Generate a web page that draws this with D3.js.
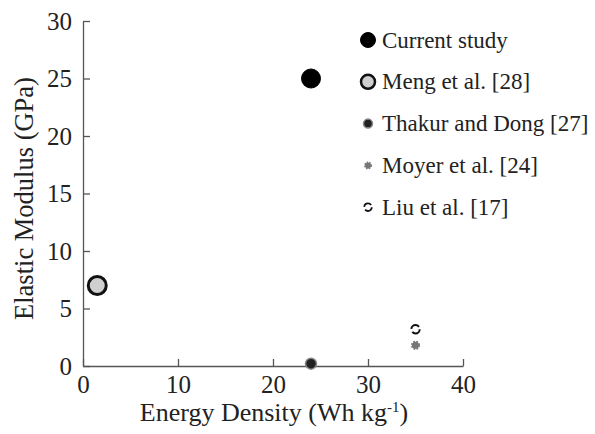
<!DOCTYPE html>
<html>
<head>
<meta charset="utf-8">
<script src="https://cdn.jsdelivr.net/npm/d3@7"></script>
<style>
  body { margin: 0; background: #fff; }
  svg text { font-family: 'Liberation Serif', 'Times New Roman', Times, serif; }
  .domain, .tick line { stroke: #555; stroke-width: 1.3; }
</style>
</head>
<body>
<script>
const studies = ['Current study', 'Meng et al. [28]', 'Thakur and Dong [27]', 'Moyer et al. [24]', 'Liu et al. [17]']
const energy = [24, 1.5, 24, 35, 35]
const modulus = [25, 7, 0.2, 1.8, 3.2]
const xTicks = [0, 10, 20, 30, 40]
const yTicks = [0, 5, 10, 15, 20, 25, 30]

const fam = 'Liberation Serif'

// marker look per study (style only)
const markStyle = [
    { r: 9.5, fill: '#000', stroke: '#000', sw: 1, dash: null },
    { r: 9, fill: '#cfcfcf', stroke: '#111', sw: 3, dash: null },
    { r: 5.5, fill: '#222', stroke: '#888', sw: 1.5, dash: null },
    { r: 3.5, fill: '#777', stroke: '#777', sw: 2.2, dash: '1.6 1.2' },
    { r: 4.2, fill: 'none', stroke: '#111', sw: 2, dash: '10 3.2' }
]
const legendStyle = [
    { r: 7.5, fill: '#000', stroke: '#000', sw: 1, dash: null },
    { r: 7, fill: '#cfcfcf', stroke: '#111', sw: 2.5, dash: null },
    { r: 4.5, fill: '#222', stroke: '#888', sw: 1.5, dash: null },
    { r: 3, fill: '#777', stroke: '#777', sw: 2, dash: '1.4 1.1' },
    { r: 3.8, fill: 'none', stroke: '#111', sw: 1.8, dash: '9 3' }
]

const dms = {
    width: 595,
    height: 434,
    margin: { top: 21, right: 132, bottom: 68, left: 83 }
}
dms.contentWidth = dms.width - dms.margin.left - dms.margin.right
dms.contentHeight = dms.height - dms.margin.top - dms.margin.bottom

const box = d3.select('body').append('svg')
    .attr('width', dms.width)
    .attr('height', dms.height)

const content = box.append('g')
    .attr('transform', `translate(${dms.margin.left},${dms.margin.top})`)

const xScale = d3.scaleLinear().domain([0, 40]).range([0, dms.contentWidth])
const yScale = d3.scaleLinear().domain([0, 30]).range([dms.contentHeight, 0])

const xAxis = content.append('g')
    .attr('transform', `translate(0,${dms.contentHeight})`)
    .call(d3.axisBottom(xScale).tickValues(xTicks).tickSizeInner(-7).tickSizeOuter(0).tickPadding(9))
xAxis.attr('font-family', null)
xAxis.selectAll('text')
    .style('font-family', fam).style('font-size', '25px').attr('fill', '#222')

const yAxis = content.append('g')
    .call(d3.axisLeft(yScale).tickValues(yTicks).tickSizeInner(-7).tickSizeOuter(0).tickPadding(11))
yAxis.attr('font-family', null)
yAxis.selectAll('text')
    .style('font-family', fam).style('font-size', '25px').attr('fill', '#222')

content.append('text')
    .attr('x', xScale(20) + 1)
    .attr('y', dms.contentHeight + 55)
    .attr('text-anchor', 'middle')
    .style('font-family', fam).style('font-size', '26px')
    .attr('fill', '#222')
    .text('Energy Density (Wh kg')
    .call(t => t.append('tspan').attr('dy', -9).style('font-size', '15px').text('-1'))
    .call(t => t.append('tspan').attr('dy', 9).text(')'))

content.append('text')
    .attr('transform', `translate(-50,${yScale(15) + 5}) rotate(-90)`)
    .attr('text-anchor', 'middle')
    .style('font-family', fam).style('font-size', '26.5px')
    .attr('fill', '#222')
    .text('Elastic Modulus (GPa)')

const points = studies.map((s, i) => ({ name: s, x: energy[i], y: modulus[i], st: markStyle[i], lg: legendStyle[i] }))

content.append('g').selectAll('circle')
    .data(points)
    .join('circle')
    .attr('cx', d => xScale(d.x))
    .attr('cy', d => yScale(d.y))
    .attr('r', d => d.st.r)
    .attr('fill', d => d.st.fill)
    .attr('stroke', d => d.st.stroke)
    .attr('stroke-width', d => d.st.sw)
    .attr('stroke-dasharray', d => d.st.dash)

const legend = box.append('g').attr('transform', 'translate(368,40)')
const rows = legend.selectAll('g')
    .data(points)
    .join('g')
    .attr('transform', (d, i) => `translate(0,${i * 41.8})`)
rows.append('circle')
    .attr('r', d => d.lg.r)
    .attr('fill', d => d.lg.fill)
    .attr('stroke', d => d.lg.stroke)
    .attr('stroke-width', d => d.lg.sw)
    .attr('stroke-dasharray', d => d.lg.dash)
rows.append('text')
    .attr('x', 14)
    .attr('dy', '0.33em')
    .style('font-family', fam).style('font-size', '23px')
    .attr('fill', '#222')
    .text(d => d.name)
</script>
</body>
</html>
